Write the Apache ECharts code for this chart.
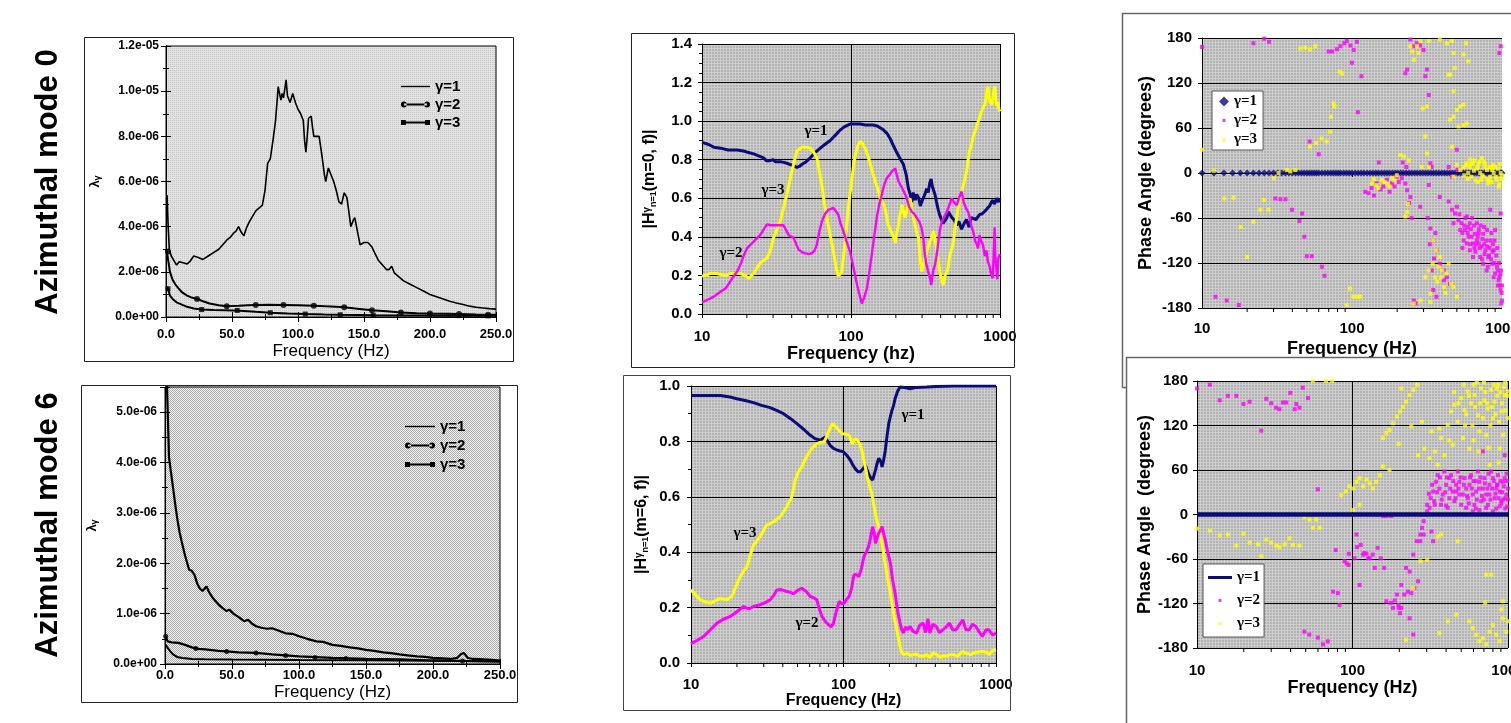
<!DOCTYPE html>
<html><head><meta charset="utf-8">
<script src="https://cdn.jsdelivr.net/npm/echarts/dist/echarts.min.js"></script>
<style>html,body{margin:0;padding:0;background:#fff}#c{width:1511px;height:723px}</style>
</head><body><div id="c"></div><script>
// ===================== DATA =====================
// Panel 1 (azimuthal mode 0): eigenvalues lambda_gamma, in units of 1e-6, vs frequency (Hz)
const m0_g1 = [[0.8,5.4],[1.5,4.2],[2.5,3.0],[4,2.7],[6,2.5],[8,2.3],[10,2.45],[13,2.4],[16,2.35],[18,2.45],[21,2.7],[24,2.65],[28,2.55],[32,2.7],[36,2.85],[40,3.0],[43,3.2],[46,3.4],[49,3.55],[51,3.7],[53,3.8],[55,4.0],[57,3.75],[59,3.6],[61,3.95],[63,4.2],[66,4.5],[68,4.7],[70,4.8],[73,4.95],[75,5.6],[77,6.8],[79,7.0],[81,7.8],[83,8.7],[85,10.2],[87,9.6],[88,9.9],[89,9.7],[91,10.5],[92,9.8],[94,9.5],[96,9.9],[97,9.95],[98,9.5],[100,9.2],[102,9.0],[104,8.7],[105,7.8],[106,7.3],[107,8.0],[108,8.8],[110,8.9],[111,8.4],[112,8.0],[114,8.0],[116,8.0],[118,7.2],[120,6.3],[121,6.0],[123,6.6],[125,6.3],[127,6.0],[129,5.6],[131,5.1],[133,5.0],[135,5.5],[137,5.3],[138,4.9],[140,4.0],[142,4.3],[143,4.4],[145,3.8],[147,3.2],[150,3.3],[153,3.3],[156,3.1],[158,2.85],[161,2.5],[164,2.3],[167,2.1],[169,2.1],[171,2.25],[173,1.95],[176,1.8],[180,1.6],[185,1.45],[190,1.3],[195,1.15],[200,1.0],[205,0.9],[210,0.8],[215,0.7],[220,0.62],[225,0.55],[230,0.48],[235,0.43],[240,0.4],[245,0.37],[250,0.35]];
const m0_g2 = [[0.5,2.95],[1.5,2.9],[3,2.0],[5,1.65],[7,1.45],[9,1.3],[12,1.1],[16,0.95],[20,0.85],[23.5,0.8],[28,0.7],[33,0.6],[40,0.52],[46,0.48],[55,0.5],[62,0.52],[68,0.53],[78,0.54],[89,0.53],[100,0.52],[112,0.5],[125,0.46],[135,0.43],[145,0.37],[156,0.3],[167,0.25],[178,0.2],[190,0.17],[200,0.15],[212,0.14],[222,0.13],[235,0.11],[250,0.1]];
const m0_g2_marks = [[1.5,2.9],[23.5,0.8],[46,0.48],[68,0.53],[89,0.53],[112,0.5],[135,0.43],[156,0.3],[178,0.2],[200,0.15],[222,0.13],[244,0.1]];
const m0_g3 = [[0.5,1.35],[1.5,1.25],[3,0.95],[5,0.8],[8,0.65],[12,0.55],[16,0.45],[21,0.38],[27,0.33],[36,0.31],[45,0.3],[56,0.28],[68,0.23],[79,0.19],[92,0.15],[105,0.13],[120,0.11],[132,0.1],[157,0.08],[190,0.07],[222,0.06],[250,0.05]];
const m0_g3_marks = [[1.5,1.25],[27,0.33],[54,0.29],[79,0.19],[105.5,0.13],[132,0.1],[157,0.08],[222,0.06],[244,0.05]];

// Panel 2 (azimuthal mode 6): lambda_gamma, units of 1e-6
const m6_g1 = [[0.3,6.2],[1.5,5.5],[3,4.1],[4.5,3.8],[6,3.5],[8,3.1],[9.5,2.83],[11,2.6],[13,2.37],[15,2.15],[18,1.87],[20,1.85],[22,1.77],[24,1.6],[26,1.5],[28,1.45],[31,1.54],[33,1.42],[36,1.3],[40,1.18],[43,1.11],[46,1.05],[48,1.08],[51,1.0],[55,0.93],[59,0.85],[62,0.88],[65,0.8],[68,0.75],[72,0.72],[76,0.7],[80,0.71],[85,0.66],[90,0.61],[95,0.6],[100,0.55],[106,0.5],[113,0.45],[118,0.44],[125,0.38],[131,0.36],[138,0.33],[144,0.31],[150,0.28],[156,0.26],[163,0.23],[170,0.21],[175,0.19],[181,0.17],[188,0.15],[194,0.14],[200,0.12],[207,0.11],[213,0.1],[218,0.12],[221,0.2],[223,0.22],[226,0.12],[230,0.1],[238,0.09],[244,0.08],[250,0.07]];
const m6_g2 = [[0.5,0.55],[2,0.45],[5,0.43],[10,0.42],[15,0.38],[20,0.33],[25,0.3],[30,0.29],[40,0.26],[46,0.25],[55,0.23],[68,0.22],[80,0.19],[100,0.15],[125,0.12],[150,0.1],[175,0.09],[200,0.07],[225,0.06],[250,0.05]];
const m6_g2_marks = [[0.5,0.55],[23,0.31],[46,0.25],[68,0.22],[90,0.17],[112,0.13],[135,0.11],[222,0.06]];
const m6_g3 = [[0.5,0.38],[2,0.32],[4,0.25],[6,0.19],[9,0.14],[13,0.12],[20,0.1],[30,0.095],[50,0.09],[75,0.085],[100,0.08],[150,0.075],[200,0.065],[250,0.05]];

// Panel 3: |H| for m=0 vs frequency (hz), log axis
const h0_g1 = [[10,0.89],[11,0.88],[12,0.865],[13.3,0.86],[15,0.85],[17.2,0.85],[19,0.845],[20,0.84],[22.2,0.83],[24,0.82],[25.9,0.81],[27,0.795],[28.6,0.795],[30,0.8],[31,0.79],[33.5,0.79],[36,0.785],[39.1,0.775],[41,0.77],[43.3,0.76],[45,0.765],[46.7,0.775],[50,0.79],[53.3,0.81],[57,0.835],[62.2,0.86],[67,0.88],[72.6,0.9],[78,0.925],[84.9,0.955],[90,0.97],[98.5,0.985],[105,0.985],[115,0.985],[125,0.98],[141,0.98],[150,0.975],[165,0.955],[175,0.935],[183,0.91],[192,0.875],[202,0.84],[212,0.81],[225,0.775],[235,0.72],[243,0.65],[250,0.62],[256,0.58],[262,0.63],[270,0.59],[276,0.62],[285,0.6],[292,0.56],[298,0.58],[305,0.6],[313,0.62],[322,0.65],[330,0.63],[338,0.68],[345,0.7],[352,0.66],[358,0.66],[366,0.62],[375,0.58],[385,0.54],[395,0.51],[405,0.5],[415,0.47],[428,0.48],[440,0.5],[450,0.53],[462,0.53],[475,0.5],[490,0.49],[512,0.46],[530,0.48],[552,0.44],[575,0.47],[596,0.49],[620,0.45],[640,0.5],[660,0.51],[690,0.49],[729,0.515],[760,0.52],[807,0.54],[850,0.56],[891,0.59],[920,0.57],[950,0.6],[980,0.58],[1000,0.6]];
const h0_g2 = [[10,0.06],[11,0.075],[12,0.09],[13.3,0.115],[14.5,0.135],[16.3,0.195],[17.2,0.22],[18.1,0.255],[19,0.3],[20,0.34],[22.2,0.375],[24.6,0.41],[27.3,0.465],[29,0.46],[31.8,0.46],[35.3,0.46],[38.1,0.41],[41.1,0.395],[44.4,0.335],[47,0.32],[49.3,0.315],[52,0.31],[54.7,0.315],[57,0.33],[59,0.36],[61,0.42],[63.7,0.48],[67,0.52],[70.6,0.54],[76.2,0.55],[82.2,0.515],[85,0.47],[88.9,0.43],[93,0.38],[98.5,0.325],[104,0.24],[110,0.15],[114,0.1],[118,0.055],[122,0.08],[128,0.135],[133,0.22],[138,0.31],[143,0.4],[149,0.5],[155,0.57],[161,0.62],[167,0.67],[174,0.705],[181,0.72],[188,0.74],[193,0.73],[198,0.755],[203,0.72],[208,0.69],[214,0.67],[220,0.655],[226,0.66],[231,0.62],[237,0.6],[244,0.56],[250,0.57],[256,0.53],[265,0.52],[276,0.5],[287,0.48],[298,0.445],[305,0.4],[313,0.31],[320,0.26],[330,0.22],[338,0.19],[346,0.15],[352,0.2],[358,0.23],[366,0.255],[375,0.3],[386,0.375],[396,0.44],[407,0.48],[420,0.5],[439,0.53],[455,0.56],[474,0.6],[490,0.58],[512,0.565],[530,0.6],[552,0.635],[570,0.58],[590,0.55],[611,0.53],[630,0.49],[645,0.45],[660,0.43],[680,0.38],[700,0.36],[712,0.34],[730,0.41],[745,0.38],[769,0.36],[790,0.3],[810,0.33],[830,0.27],[850,0.25],[870,0.21],[891,0.185],[905,0.28],[920,0.45],[930,0.3],[943,0.31],[960,0.18],[975,0.29],[1000,0.31]];
const h0_g3 = [[10,0.195],[11.4,0.21],[12.5,0.21],[13.3,0.205],[14.5,0.2],[15.5,0.21],[17,0.21],[18.1,0.21],[19.5,0.2],[20.6,0.185],[22.2,0.21],[24.6,0.265],[27.3,0.29],[28.8,0.33],[30.2,0.395],[33.5,0.48],[37.1,0.62],[40.1,0.74],[43.3,0.845],[46.7,0.865],[50,0.865],[53.3,0.86],[56,0.84],[59,0.81],[61,0.75],[63.7,0.67],[66,0.58],[68.8,0.5],[72,0.42],[76.2,0.325],[79,0.25],[82.2,0.195],[84,0.19],[86.7,0.22],[90,0.33],[93.5,0.46],[97,0.58],[101,0.69],[104,0.77],[107,0.825],[111,0.87],[115,0.895],[119,0.885],[124,0.86],[130,0.82],[135,0.775],[140,0.73],[145,0.69],[151,0.65],[157,0.6],[163,0.58],[169,0.55],[174,0.5],[178,0.46],[183,0.44],[188,0.43],[193,0.4],[198,0.37],[203,0.42],[208,0.46],[214,0.52],[220,0.565],[225,0.53],[231,0.5],[240,0.56],[249,0.6],[256,0.55],[262,0.5],[270,0.46],[276,0.42],[284,0.395],[290,0.3],[298,0.22],[305,0.25],[313,0.29],[322,0.32],[330,0.35],[338,0.375],[350,0.4],[358,0.43],[366,0.43],[372,0.36],[380,0.3],[386,0.29],[395,0.22],[405,0.18],[416,0.15],[428,0.2],[440,0.22],[449,0.24],[460,0.3],[475,0.34],[487,0.375],[500,0.45],[512,0.5],[525,0.56],[542,0.6],[560,0.65],[583,0.705],[600,0.75],[612,0.8],[625,0.845],[645,0.88],[660,0.92],[679,0.945],[700,0.98],[715,1.0],[729,1.015],[750,1.05],[770,1.07],[790,1.085],[805,1.12],[820,1.16],[830,1.18],[845,1.12],[860,1.1],[878,1.085],[895,1.12],[910,1.16],[922,1.18],[935,1.12],[950,1.08],[968,1.1],[985,1.06],[1000,1.05]];

// Panel 4: |H| for m=6
const h6_g1 = [[10,0.966],[12,0.966],[15.6,0.966],[18,0.96],[20,0.954],[23,0.947],[25.7,0.94],[29,0.93],[33,0.922],[37,0.91],[40.4,0.9],[45,0.882],[49.5,0.864],[55,0.843],[60.6,0.822],[65,0.81],[70.5,0.804],[73,0.81],[75.8,0.816],[78,0.81],[81.7,0.786],[86,0.775],[91.4,0.768],[100,0.762],[105,0.75],[111,0.732],[115,0.715],[120,0.7],[125,0.69],[129,0.69],[134,0.7],[139,0.714],[142,0.7],[146,0.684],[150,0.67],[155,0.66],[158,0.675],[162,0.696],[166,0.72],[170,0.738],[175,0.73],[179,0.708],[183,0.73],[188,0.768],[193,0.82],[198,0.864],[203,0.89],[208,0.912],[213,0.93],[218,0.954],[226,0.98],[235,0.996],[250,0.995],[273,0.99],[300,0.995],[351,0.996],[400,0.998],[525,1.0],[700,1.0],[1000,1.0]];
const h6_g2 = [[10,0.07],[11,0.082],[12.1,0.096],[13.4,0.12],[14.8,0.144],[16.3,0.158],[18.1,0.168],[20,0.185],[22.1,0.204],[23.9,0.195],[26,0.205],[28.4,0.21],[31,0.22],[33,0.228],[35,0.245],[36.5,0.264],[39,0.265],[42.5,0.258],[45,0.255],[46.9,0.25],[50,0.262],[53.3,0.27],[57,0.258],[60.6,0.24],[64,0.235],[66.9,0.228],[69,0.2],[72.2,0.168],[76,0.15],[79.9,0.138],[83,0.13],[86,0.144],[89,0.18],[93.7,0.222],[97,0.215],[101,0.216],[105,0.23],[109,0.24],[113,0.27],[117,0.318],[121,0.32],[126,0.312],[131,0.34],[136,0.384],[141,0.4],[146,0.42],[150,0.45],[155,0.492],[159,0.47],[162,0.432],[166,0.45],[170,0.468],[175,0.48],[179,0.492],[183,0.47],[188,0.444],[195,0.4],[203,0.36],[210,0.3],[218,0.252],[226,0.19],[235,0.144],[241,0.12],[247,0.108],[255,0.13],[262,0.12],[273,0.132],[285,0.115],[302,0.108],[315,0.135],[333,0.144],[345,0.11],[358,0.16],[368,0.108],[385,0.14],[406,0.132],[425,0.11],[449,0.12],[470,0.13],[496,0.144],[520,0.12],[548,0.12],[570,0.135],[605,0.156],[635,0.12],[668,0.12],[700,0.14],[738,0.132],[770,0.115],[815,0.096],[860,0.12],[900,0.12],[950,0.1],[1000,0.108]];
const h6_g3 = [[10,0.264],[11.5,0.228],[12.5,0.22],[13.4,0.216],[14.5,0.225],[15.6,0.234],[17.2,0.228],[18.5,0.24],[19.5,0.27],[20.5,0.3],[22,0.33],[23.3,0.348],[24.5,0.39],[25.7,0.426],[27,0.44],[28.4,0.456],[30,0.48],[31.4,0.498],[34.8,0.51],[38.4,0.528],[42.5,0.564],[45.8,0.6],[48.2,0.66],[50.5,0.69],[53.3,0.708],[56,0.735],[58.9,0.756],[62,0.775],[66.9,0.792],[70,0.796],[74.7,0.798],[78,0.82],[80.4,0.84],[84.6,0.864],[88,0.855],[91.4,0.846],[95,0.835],[98.5,0.828],[104,0.825],[109,0.822],[114,0.792],[117,0.8],[120,0.81],[125,0.8],[129,0.786],[133,0.76],[136,0.732],[140,0.7],[143,0.672],[148,0.64],[155,0.6],[158,0.57],[162,0.54],[166,0.51],[170,0.492],[175,0.46],[179,0.432],[185,0.38],[192,0.324],[200,0.27],[208,0.216],[216,0.16],[224,0.12],[230,0.085],[235,0.06],[240,0.04],[247,0.03],[260,0.035],[275,0.028],[285,0.03],[300,0.032],[315,0.025],[333,0.024],[350,0.03],[370,0.02],[386,0.036],[410,0.03],[430,0.02],[449,0.026],[470,0.025],[500,0.03],[525,0.03],[560,0.025],[605,0.042],[640,0.035],[680,0.03],[715,0.036],[760,0.04],[815,0.042],[860,0.04],[900,0.03],[950,0.045],[1000,0.048]];

// Panel 5: phase angle (degrees), m=0
const ph0_freq = [10,12,14,16,18,20,22,24,26,28,
  30,32,34,36,38,40,42,44,46,48,
  50,52,54,56,58,60,63,66,69,72,
  75,78,81,84,88,92,96,100,105,110,
  115,120,126,132,138,144,150,157,164,171,
  178,186,194,202,211,220,230,240,250,261,
  272,284,296,309,322,336,350,365,380,396,
  413,430,448,467,487,508,530,552,575,599,
  624,650,677,705,734,765,797,830,865,901,
  938,977,1000];
const ph0_g1 = [0,0,0,0,0,0,0,0,0,0, 0,0,0,0,0,0,0,0,0,0, 0,0,0,0,0,0,0,0,0,0, 0,0,0,0,0,0,0,0,0,0,
  0,0,0,0,0,0,0,0,0,0, 0,0,0,0,0,0,0,0,0,0, 0,0,0,0,0,0,0,0,0,0, 0,0,0,0,0,0,0,0,0,0,
  0,0,0,0,0,0,0,0,0,0, 0,0,0];
const ph0_g2 = [[10,168],[22,173],[26,179],[28,175],[30.8,-34],[33.3,-35],[36,-35],[39.8,-49],[44.6,-64],[46.5,-54],[48.1,-85],[50,-111],[52.2,42],[54,-111],[60,25],[63,-125],[65.6,-137],[69.9,162],[73.6,162],[79.3,165],[83.6,169],[88.8,173],[92.3,176],[97.7,170],[99.9,147],[102.6,164],[107.9,175],[109.5,81],[115.5,129],[12.3,-165],[14.6,-170],[17.6,-176],
  [122.5,-25],[129,-27],[135,-20],[140,-30],[146,-14],[151,14],[155,-22],[162,-18],[171,-9],[178,-25],[185,-14],[192,-18],[199,-5],[205,-12],[215,-7],[218,14],[227,-14],[230,8],[233,-23],[240,-40],[245,-32],[250,-60],
  [245,178],[258,169],[271,173],[285,170],[300,164],[316,138],[308,129],[233,138],[227,133],[325,104],
  [333,-74],[348,-90],[365,-103],[385,-121],[410,-130],[429,-139],[450,-148],[348,-156],[365,-165],[410,-143],[340,-130],[352,-114],[320,-60],[330,-95],[360,-80],
  [441,-38],[464,-49],[486,-54],[513,-63],[537,-67],[565,-76],[592,-72],[628,-85],[660,-81],[700,-94],[730,-98],[775,-103],[810,-112],[860,-121],[900,-134],[950,-143],[980,-156],[1000,-170],[527,-76],[555,-90],[582,-94],[610,-67],[640,-94],[680,-90],[715,-112],[750,-81],[795,-98],[835,-90],[880,-103],[925,-125],[960,-139],[795,-76],[610,-103],[640,-112],[880,-139],[990,-174],[500,-45],[475,-67],[750,-121],[680,-67],[582,-58],[900,-76],[835,-49],[700,-80],[760,-95],[820,-110],[870,-95],[940,-150],[985,-130],[620,-75],[655,-100],[720,-70],
  [520,-55],[545,-80],[570,-60],[600,-85],[615,-95],[650,-70],[665,-105],[690,-85],[710,-100],[740,-88],[765,-108],[785,-90],[805,-125],[825,-100],[845,-115],[865,-105],[890,-120],[915,-110],[935,-130],[955,-120],[970,-150],[995,-160],[545,-100],[590,-80],[630,-60],[670,-95],[735,-115],[790,-130],[850,-80],[890,-90],[930,-100],[975,-135],[560,-70],[700,-75],[760,-72],[1000,-150],
  [441,8],[464,-5],[980,169],[960,160],[500,31],[505,4],[285,-45],[340,8],[333,13],[385,-32],[325,-16],[258,-170],[265,-174],[980,-54]];
const ph0_g3 = [[10,31],[12,3],[14.1,-34],[16.2,-33],[18.1,-72],[20,-112],[22,-65],[24.5,-49],[25.8,-36],[27.8,-49],[30.1,-7],[32.4,0],[36.9,4],[38.8,2],[41.9,4],[45.2,166],[48.8,167],[52.6,165],[56.9,169],[52.6,35],[57.8,40],[62.6,46],[67.7,42],[71.5,55],[75.3,93],[76.5,89],[72.4,75],[82.6,135],[85.7,133],[92.3,-176],[97,-154],[102,-165],[107.9,-165],[113,-165],
  [136,-14],[146,-16],[158,-9],[171,-14],[185,-7],[199,-3],[210,24],[222,22],[227,-58],[233,-52],[236,-41],[239,17],[140,-8],[150,-20],[165,-12],[178,-18],[192,-10],
  [245,169],[252,162],[258,151],[271,169],[278,160],[285,176],[292,8],[296,86],[308,49],[316,26],[326,8],[334,-172],
  [348,-90],[363,-103],[377,-125],[391,-139],[410,-152],[426,-134],[441,-121],[457,-148],[475,-152],[500,-165],[358,-139],[345,-121],[385,-112],[308,-139],[325,-130],[333,-161],[370,-145],[400,-130],[420,-160],
  [441,131],[450,131],[464,176],[475,109],[450,71],[475,75],[500,84],[527,89],[555,91],[513,62],[555,64],[582,66],[575,173],[595,149],[464,35],[475,160],
  [527,4],[555,8],[582,13],[610,8],[640,13],[680,6],[715,0],[750,-5],[795,4],[835,-5],[880,0],[925,-9],[980,0],[595,0],[625,-5],[655,17],[700,13],[730,-9],[775,8],[810,-14],[860,4],[900,8],[950,-18],[500,11],[475,-5],[760,15],[820,-10],[870,10],[990,-8],[690,-12],
  [560,-3],[575,10],[590,-8],[620,12],[650,3],[670,-10],[690,8],[710,15],[740,-3],[770,12],[800,-9],[830,8],[850,-12],[880,10],[910,-5],[940,6],[970,12],[1000,-3],[615,18],[735,20],[960,-15],
  [316,89],[325,176],[385,178],[429,173],[485,140],[555,158],[285,-170],[258,-174]];

// Panel 6: phase angle (degrees), m=6
const ph6_g1 = [[10,0],[30,0],[100,0],[300,0],[1000,0]];
const ph6_g2 = [[10,170],[12.1,175],[14,154],[15.8,160],[17.9,160],[19.9,149],[21.8,152],[25.9,113],[27.9,156],[30,150],[32.3,144],[33.9,142],[35.7,151],[37.5,151],[39.8,164],[42.5,142],[43.5,149],[45.6,144],[47.9,171],[51.7,157],[59.9,34],[49,-158],[52.8,-162],[59.9,-166],[64.6,-175],[69.4,-171],
  [78,-48],[75,-104],[80.5,-106],[82.5,-122],[88.9,-63],[91.7,-66],[94.5,-68],[94.8,-53],[111,-95],[103,-59],[106,-27],[107,-44],[113,-41],[119,-52],[126,-59],[135,-54],[145,-45],[152,-59],[160,-72],[139,-72],[117,-54],[123,-53],[129,-59],
  [157,-2],[165,-2],[177,-2],[187,-116],[198,-122],[206,-126],[215,-108],[227,-104],[239,-106],[250,-99],[264,-90],[221,-72],[233,-77],[246,-54],[259,-36],[273,-27],[280,-18],[287,-9],[302,4],[313,9],[198,-126],[177,-119],[182,-126],[165,-117],[202,-133],[193,-108],[206,-95],[233,-140],[246,-162],[273,-36],[287,-27],[322,-23],[330,-36],
  [302,13],[318,22],[330,31],[345,44],[362,35],[380,27],[400,40],[420,49],[441,31],[464,40],[487,44],[512,27],[538,35],[565,40],[593,27],[624,31],[655,44],[689,35],[724,27],[761,40],[800,49],[841,35],[884,31],[929,44],[976,27],[1000,35],[338,13],[371,13],[410,9],[452,18],[500,13],[551,22],[608,13],[672,18],[742,13],[820,22],[907,15],[990,11],[353,53],[390,58],[430,53],[475,58],[525,49],[579,53],[640,58],[706,49],[780,58],[862,53],[952,49],[724,9],[800,4],[655,6],[884,11],[593,4],[538,9],[487,27],[464,31],[420,22],[689,85],[952,80],[907,18],[761,27],[560,15],[620,45],[700,20],[850,40],[930,20],[980,55],
  [310,28],[325,40],[335,18],[350,30],[365,50],[375,20],[395,30],[405,50],[425,35],[445,45],[460,22],[480,35],[495,50],[520,40],[545,25],[570,50],[585,35],[600,45],[630,20],[650,35],[665,50],[680,25],[710,42],[735,35],[750,55],[770,20],[790,35],[810,45],[830,28],[855,40],[870,22],[895,45],[915,30],[940,38],[960,22],[985,45],[1000,20],[400,12],[620,8],[840,8],[960,8]];
const ph6_g3 = [[10,-19],[12.1,-22],[14,-28],[15.8,-27],[17.9,-42],[19.9,-26],[21.8,-38],[24.7,-40],[25.9,-56],[27.9,-34],[30,-38],[32.3,-42],[33.9,-44],[36.6,-40],[39.4,-32],[41.4,-41],[45.6,-42],[49,-3],[52.8,-7],[55.5,-18],[58.5,-7],[61.5,-18],[55.5,180],[67.6,180],[74,180],
  [84.6,26],[90.6,31],[95.8,38],[101,35],[106,44],[111,49],[117,38],[123,47],[129,42],[135,35],[142,44],[150,53],[157,65],[173,60],[111,13],[101,6],
  [157,103],[165,110],[173,114],[182,123],[193,132],[202,139],[211,145],[221,152],[233,161],[246,168],[260,175],[198,95],[206,170],[239,119],[264,80],[280,125],[290,89],[313,76],[322,112],[338,85],[353,67],[371,103],[390,80],[410,121],[430,139],[452,148],[475,125],[500,157],[525,141],[551,166],[579,150],[608,161],[640,134],[672,170],[706,154],[742,143],[780,168],[820,152],[862,175],[907,139],[952,161],[1000,166],[655,112],[512,103],[441,94],[362,116],[565,89],[724,107],[800,130],[929,107],[884,89],[761,67],[600,175],[700,178],[850,170],[960,178],
  [450,165],[480,150],[520,175],[540,135],[560,160],[590,120],[615,145],[630,178],[660,150],[690,130],[715,165],[735,150],[770,120],[790,145],[810,175],[830,135],[855,160],[875,125],[895,165],[915,150],[940,172],[965,140],[985,160],[1000,130],[600,100],[650,85],[750,90],[870,70],[530,120],[420,100],
  [565,-144],[593,-153],[624,-162],[655,-171],[689,-167],[724,-175],[761,-158],[800,-149],[841,-162],[884,-171],[929,-140],[976,-158],[1000,-144],[907,-128],[929,-117],[713,-119],[780,-81],[724,-81],[410,-144],[464,-135],[475,-36],[362,-160],[221,-169],[246,-99],[273,-63],[302,-61],[353,-30],[371,-27]];

// minor tick positions on the log frequency axes
const logMinorTicks = [20,30,40,50,60,70,80,90,200,300,400,500,600,700,800,900];

// ===================== CHART =====================
const navy = '#0b0b7a', mag = '#ff00ff', yel = '#ffff00';
const SANS = '"Liberation Sans", Arial, sans-serif';
const SERIF = '"Liberation Serif", "Times New Roman", serif';

function makePattern(w, h, bg, fg, pts) {
  const c = document.createElement('canvas'); c.width = w; c.height = h;
  const g = c.getContext('2d'); g.fillStyle = bg; g.fillRect(0, 0, w, h);
  g.fillStyle = fg; pts.forEach(p => g.fillRect(p[0], p[1], 1, 1));
  return { image: c, repeat: 'repeat' };
}
const patLight = makePattern(2, 2, '#e2e2e2', '#c6c6c6', [[0,0]]);
const patDots = makePattern(2, 2, '#f2f2f2', '#ababab', [[0,0],[1,1]]);
const patGray = makePattern(3, 3, '#b3b3b3', '#cdcdcd', [[0,0],[1,0],[2,0],[0,1],[0,2]]);

function expFmt(v) {
  const s = (v * 1e-6).toExponential(1);
  const parts = s.split('e'); const sign = parts[1][0] === '-' ? '-' : '+';
  let d = parts[1].replace(/[+-]/, ''); if (d.length < 2) d = '0' + d;
  return parts[0] + 'e' + sign + d;
}
const lbl = (size, margin, extra) => Object.assign({ fontSize: size, fontWeight: 'bold', color: '#000', fontFamily: SANS, margin: margin }, extra || {});
const blackLine = { show: true, lineStyle: { color: '#000', width: 1 } };
const legendName = n => n.split('#')[0];

const grids = [
  { left: 166, top: 46, width: 330, height: 271, bg: patLight },
  { left: 165, top: 387, width: 335, height: 277, bg: patDots },
  { left: 702, top: 44, width: 298, height: 270, bg: patGray },
  { left: 691, top: 386, width: 305, height: 277, bg: patGray },
  { left: 1202, top: 38, width: 300, height: 270, bg: patGray },
  { left: 1197, top: 381, width: 311, height: 267, bg: patGray }
].map((g, i) => ({ left: g.left, top: g.top, width: g.width, height: g.height, show: true, backgroundColor: g.bg,
  borderWidth: i < 2 ? 1 : 0, borderColor: '#000', containLabel: false, outerBoundsMode: 'none' }));

function linX(gi, pos, withLabel, margin, gap) {
  return { gridIndex: gi, type: 'value', min: 0, max: 250, interval: 50, position: pos,
    axisLine: blackLine, axisTick: { show: true, inside: true, length: 5, lineStyle: { color: '#000' } },
    minorTick: { show: true, splitNumber: 2, length: 3, lineStyle: { color: '#000' } },
    splitLine: { show: false },
    axisLabel: withLabel ? lbl(13, margin, { formatter: v => v.toFixed(1) }) : { show: false },
    name: withLabel ? 'Frequency (Hz)' : '', nameLocation: 'middle', nameGap: gap,
    nameTextStyle: { fontSize: 17, color: '#000', fontFamily: SANS } };
}
function linY(gi, pos, withLabel, max, margin, gap) {
  return { gridIndex: gi, type: 'value', min: 0, max: max, interval: max > 6 ? 2 : 1, position: pos,
    axisLine: blackLine, axisTick: { show: true, inside: true, length: 5, lineStyle: { color: '#000' } },
    minorTick: { show: true, splitNumber: 2, length: 3, lineStyle: { color: '#000' } },
    splitLine: { show: false },
    axisLabel: withLabel ? lbl(12, margin, { formatter: expFmt, showMaxLabel: max > 6 }) : { show: false },
    name: withLabel ? 'λ{sub|γ}' : '', nameLocation: 'middle', nameRotate: 90, nameGap: gap,
    nameTextStyle: { fontSize: 13, fontWeight: 'bold', color: '#000', fontFamily: SANS,
      rich: { sub: { fontSize: 9, fontWeight: 'bold', verticalAlign: 'bottom', fontFamily: SANS } } } };
}
function logX(gi, name, margin, gap, nameSize, split) {
  return { gridIndex: gi, type: 'log', logBase: 10, min: 10, max: 1000,
    axisLine: blackLine, axisTick: { show: true, length: 4, lineStyle: { color: '#000' } },
    splitLine: { show: split, lineStyle: { color: '#000', width: 1 } },
    axisLabel: lbl(15, margin, { formatter: v => String(Math.round(v)) }),
    name: name, nameLocation: 'middle', nameGap: gap,
    nameTextStyle: { fontSize: nameSize, fontWeight: 'bold', color: '#000', fontFamily: SANS } };
}
function magY(gi, max, minorSplit, margin, gap, mval) {
  return { gridIndex: gi, type: 'value', min: 0, max: max, interval: 0.2,
    axisLine: blackLine, axisTick: { show: true, length: 4, lineStyle: { color: '#000' } },
    minorTick: { show: true, splitNumber: minorSplit, length: 3, lineStyle: { color: '#000' } },
    splitLine: { show: true, lineStyle: { color: '#000', width: 1 } },
    axisLabel: lbl(15, margin, { formatter: v => v.toFixed(1) }),
    name: '|H{sup|γ}{sub|n=1}(m=' + mval + ', f)|', nameLocation: 'middle', nameRotate: 90, nameGap: gap,
    nameTextStyle: { fontSize: 16, fontWeight: 'bold', color: '#000', fontFamily: SANS,
      rich: { sup: { fontSize: 10, fontWeight: 'bold', verticalAlign: 'top', fontFamily: SANS },
              sub: { fontSize: 9, fontWeight: 'bold', verticalAlign: 'bottom', fontFamily: SANS } } } };
}
function phaseY(gi, name, margin, gap) {
  return { gridIndex: gi, type: 'value', min: -180, max: 180, interval: 60,
    axisLine: blackLine, axisTick: { show: true, length: 4, lineStyle: { color: '#000' } },
    splitLine: { show: true, lineStyle: { color: '#000', width: 1 } },
    axisLabel: lbl(15, margin),
    name: name, nameLocation: 'middle', nameRotate: 90, nameGap: gap,
    nameTextStyle: { fontSize: 18, fontWeight: 'bold', color: '#000', fontFamily: SANS } };
}

const xAxes = [
  linX(0, 'bottom', true, 11, 26), linX(0, 'top', false),
  linX(1, 'bottom', true, 5, 20), linX(1, 'top', false),
  logX(2, 'Frequency (hz)', 15, 31, 18, true),
  logX(3, 'Frequency (Hz)', 14, 28, 16, true),
  logX(4, 'Frequency (Hz)', 13, 32, 18, false),
  logX(5, 'Frequency (Hz)', 15, 27, 18, true)
];
const yAxes = [
  linY(0, 'left', true, 12, 7, 64), linY(0, 'right', false, 12),
  linY(1, 'left', true, 5.5, 8, 66), linY(1, 'right', false, 5.5),
  magY(2, 1.4, 4, 10, 44, 0),
  magY(3, 1.0, 2, 11, 41, 6),
  phaseY(4, 'Phase Angle (degrees)', 10, 47),
  phaseY(5, 'Phase Angle  (degrees)', 9, 43)
];

function line(name, xi, yi, data, color, width) {
  return { type: 'line', name: name, xAxisIndex: xi, yAxisIndex: yi, data: data, symbol: 'none', showSymbol: false,
    lineStyle: { color: color, width: width }, itemStyle: { color: color }, clip: true };
}
function marks(name, xi, yi, data, symbol, size) {
  return { type: 'scatter', name: name, xAxisIndex: xi, yAxisIndex: yi, data: data, symbol: symbol, symbolSize: size,
    itemStyle: { color: '#000' }, clip: true };
}
function scat(name, xi, yi, data, color, symbol, size) {
  return { type: 'scatter', name: name, xAxisIndex: xi, yAxisIndex: yi, data: data, symbol: symbol, symbolSize: size,
    itemStyle: { color: color }, clip: true };
}
function minorTicks(xi, yi, ymin) {
  return { type: 'custom', name: 'ticks', xAxisIndex: xi, yAxisIndex: yi, silent: true,
    data: logMinorTicks.map(f => [f, ymin]),
    renderItem: (params, api) => {
      const p = api.coord([api.value(0), api.value(1)]);
      return { type: 'line', shape: { x1: p[0], y1: p[1], x2: p[0], y2: p[1] + 4 }, style: { stroke: '#000', lineWidth: 1 } };
    } };
}

const series = [
  line('γ=1#p1', 0, 0, m0_g1, '#000', 1.6),
  line('γ=2#p1', 0, 0, m0_g2, '#000', 2),
  line('γ=3#p1', 0, 0, m0_g3, '#000', 2),
  marks('m2#p1', 0, 0, m0_g2_marks, 'circle', 6),
  marks('m3#p1', 0, 0, m0_g3_marks, 'rect', 5),

  line('γ=1#p2', 2, 2, m6_g1, '#000', 2.2),
  line('γ=2#p2', 2, 2, m6_g2, '#000', 2.2),
  line('γ=3#p2', 2, 2, m6_g3, '#000', 2),
  marks('m2#p2', 2, 2, m6_g2_marks, 'circle', 5),

  line('γ=1#p3', 4, 4, h0_g1, navy, 3),
  line('γ=3#p3', 4, 4, h0_g3, yel, 3),
  line('γ=2#p3', 4, 4, h0_g2, mag, 2.4),
  minorTicks(4, 4, 0),

  line('γ=1#p4', 5, 5, h6_g1, navy, 3),
  line('γ=3#p4', 5, 5, h6_g3, yel, 3),
  line('γ=2#p4', 5, 5, h6_g2, mag, 3),
  minorTicks(5, 5, 0),

  scat('γ=1#p5', 6, 6, ph0_freq.map((f, i) => [f, ph0_g1[i]]), navy, 'diamond', 7),
  scat('γ=2#p5', 6, 6, ph0_g2, mag, 'rect', 4),
  scat('γ=3#p5', 6, 6, ph0_g3, yel, 'rect', 4),
  minorTicks(6, 6, -180),

  scat('γ=2#p6', 7, 7, ph6_g2, mag, 'rect', 4),
  scat('γ=3#p6', 7, 7, ph6_g3, yel, 'rect', 4),
  line('γ=1#p6', 7, 7, ph6_g1, navy, 4.5),
  minorTicks(7, 7, -180)
];

const P_LINE = 'path://M0,0M30,10M0,4.3h30v1.4h-30z';
const P_DOTS = 'path://M0,0M30,10M3,4h24v2h-24zM0,5a3,3 0 1,0 6,0a3,3 0 1,0 -6,0zM24,5a3,3 0 1,0 6,0a3,3 0 1,0 -6,0z';
const P_SQ = 'path://M0,0M30,10M3,4h24v2h-24zM0,2.5h5v5h-5zM25,2.5h5v5h-5z';
const legBase = { orient: 'vertical', selectedMode: false, formatter: legendName, itemStyle: { borderWidth: 0 } };
const legends = [
  Object.assign({}, legBase, { left: 396, top: 74, itemWidth: 29, itemHeight: 10, itemGap: 3,
    textStyle: { fontSize: 15, fontWeight: 'bold', color: '#000', fontFamily: SANS },
    data: [{ name: 'γ=1#p1', icon: P_LINE }, { name: 'γ=2#p1', icon: P_DOTS }, { name: 'γ=3#p1', icon: P_SQ }] }),
  Object.assign({}, legBase, { left: 400, top: 414, itemWidth: 30, itemHeight: 10, itemGap: 4,
    textStyle: { fontSize: 15, fontWeight: 'bold', color: '#000', fontFamily: SANS },
    data: [{ name: 'γ=1#p2', icon: P_LINE }, { name: 'γ=2#p2', icon: P_DOTS }, { name: 'γ=3#p2', icon: P_SQ }] }),
  Object.assign({}, legBase, { left: 1212, top: 91, itemWidth: 10, itemHeight: 10, itemGap: 4, itemTextGap: 4,
    padding: [3, 6, 3, 7], backgroundColor: '#fff', borderColor: '#555', borderWidth: 1,
    textStyle: { fontSize: 15, fontWeight: 'bold', color: '#000', fontFamily: SERIF },
    data: [{ name: 'γ=1#p5', icon: 'diamond' },
           { name: 'γ=2#p5', icon: 'path://M0,0M10,10M3.5,3.5h3v3h-3z' },
           { name: 'γ=3#p5', icon: 'path://M0,0M10,10M5,3L7.5,7H2.5z' }] }),
  Object.assign({}, legBase, { left: 1203, top: 564, itemWidth: 24, itemHeight: 8, itemGap: 8, itemTextGap: 5,
    padding: [6, 4, 6, 5], backgroundColor: '#fff', borderColor: '#555', borderWidth: 1,
    textStyle: { fontSize: 15, fontWeight: 'bold', color: '#000', fontFamily: SERIF },
    data: [{ name: 'γ=1#p6', icon: 'path://M0,0M24,8M0,2.5h24v3h-24z' },
           { name: 'γ=2#p6', icon: 'path://M0,0M24,8M10.5,2.5h3v3h-3z' },
           { name: 'γ=3#p6', icon: 'path://M0,0M24,8M10.5,2.5h3v3h-3z' }] })
];

function frame(pts, color, w) {
  return { type: 'polyline', silent: true, z: 10, shape: { points: pts }, style: { stroke: color, lineWidth: w, fill: null } };
}
function note(text, x, y) {
  return { type: 'text', x: x, y: y, z: 20, silent: true,
    style: { text: text, font: 'bold 15px ' + SERIF, fill: '#000', align: 'center', verticalAlign: 'middle' } };
}
const graphics = [
  frame([[84.5,37.5],[513.5,37.5],[513.5,361.5],[84.5,361.5],[84.5,37.5]], '#222', 1),
  frame([[81.5,385.5],[517.5,385.5],[517.5,702.5],[81.5,702.5],[81.5,385.5]], '#222', 1),
  frame([[631.5,33.5],[1014.5,33.5],[1014.5,367.5],[631.5,367.5],[631.5,33.5]], '#222', 1),
  frame([[623.5,375.5],[1010.5,375.5],[1010.5,710.5],[623.5,710.5],[623.5,375.5]], '#444', 1),
  frame([[1530,13.5],[1122.5,13.5],[1122.5,387.5],[1126,387.5]], '#666', 1.5),
  frame([[1530,357.5],[1126.5,357.5],[1126.5,730]], '#666', 1.5),
  { type: 'text', x: 48, y: 182, rotation: Math.PI / 2, silent: true,
    style: { text: 'Azimuthal mode 0', font: 'bold 31px ' + SANS, fill: '#000', align: 'center', verticalAlign: 'middle' } },
  { type: 'text', x: 48, y: 525, rotation: Math.PI / 2, silent: true,
    style: { text: 'Azimuthal mode 6', font: 'bold 31px ' + SANS, fill: '#000', align: 'center', verticalAlign: 'middle' } },
  note('γ=1', 816, 131), note('γ=3', 773, 190), note('γ=2', 731, 253),
  note('γ=1', 913, 415), note('γ=3', 745, 533), note('γ=2', 807, 623)
];

const chart = echarts.init(document.getElementById('c'), null, { renderer: 'canvas' });
chart.setOption({
  animation: false,
  backgroundColor: '#fff',
  textStyle: { fontFamily: SANS },
  grid: grids, xAxis: xAxes, yAxis: yAxes, series: series, legend: legends, graphic: graphics
});
</script></body></html>
